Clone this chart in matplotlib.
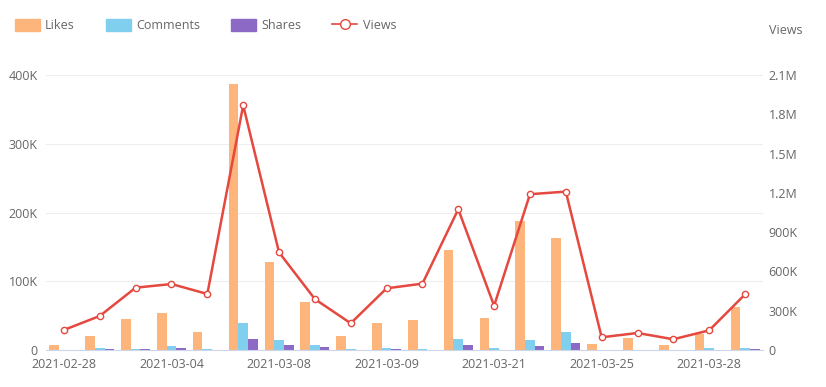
import numpy as np
import matplotlib.pyplot as plt
from matplotlib.ticker import FuncFormatter
from matplotlib.lines import Line2D
from matplotlib.patches import Patch

plt.rcParams['font.family'] = ['Open Sans', 'DejaVu Sans']

# 20 days, only every third label is shown on the axis
dates = ['2021-02-28', '', '', '2021-03-04', '', '', '2021-03-08', '', '', '2021-03-09',
         '', '', '2021-03-21', '', '', '2021-03-25', '', '', '2021-03-28', '']
likes = [7000, 21000, 45000, 54000, 26000, 387000, 128000, 70000, 20000, 39000,
         44000, 146000, 46500, 188000, 163000, 8500, 17000, 7000, 23000, 63000]
comments = [600, 3000, 1500, 6000, 1000, 39000, 15000, 8000, 1000, 3000,
            1000, 15500, 3000, 14500, 26000, 500, 500, 500, 3000, 3000]
shares = [300, 1500, 800, 3000, 500, 16000, 7000, 4500, 300, 2000,
          500, 7500, 500, 5500, 10000, 200, 200, 200, 500, 1000]
views = [153000, 260000, 476000, 504000, 428000, 1869000, 746000, 389000, 204000, 471000,
         507000, 1075000, 338000, 1190000, 1210000, 97000, 130000, 82000, 150000, 425000]

c_likes = '#fdb57c'
c_comments = '#80cfee'
c_shares = '#8d69c6'
c_views = '#e5483f'
txt = '#666666'

def kfmt(v, pos):
    if v == 0:
        return '0'
    if v >= 1e6:
        return f'{v/1e6:g}M'
    return f'{v/1e3:g}K'

fig = plt.figure(figsize=(8.26, 3.87), dpi=100)
ax = fig.add_axes([0.0557, 0.0956, 0.868, 0.7104])

x = np.arange(len(dates))
w = 0.27
ax.bar(x - w, likes, w, color=c_likes, zorder=2)
ax.bar(x, comments, w, color=c_comments, zorder=2)
ax.bar(x + w, shares, w, color=c_shares, zorder=2)

ax.set_xlim(-0.5, len(dates) - 0.5)
ax.set_ylim(0, 400000)
ax.set_yticks([0, 100000, 200000, 300000, 400000])
ax.yaxis.set_major_formatter(FuncFormatter(kfmt))
ax.set_xticks(x[::3])
ax.set_xticklabels(dates[::3])
ax.grid(axis='y', color='#eeeeee', linewidth=0.8, zorder=0)
for s in ['top', 'right', 'left']:
    ax.spines[s].set_visible(False)
ax.spines['bottom'].set_color('#ccd6eb')
ax.tick_params(length=0, labelsize=9, colors=txt)
ax.tick_params(axis='x', pad=6)
ax.tick_params(axis='y', pad=6)

ax2 = ax.twinx()
ax2.plot(x, views, color=c_views, linewidth=1.8, marker='o', markersize=4.5,
         markerfacecolor='white', markeredgecolor=c_views, markeredgewidth=1, zorder=3)
ax2.set_ylim(0, 2100000)
ax2.set_yticks(np.arange(0, 2100001, 300000))
ax2.yaxis.set_major_formatter(FuncFormatter(kfmt))
for s in ax2.spines.values():
    s.set_visible(False)
ax2.tick_params(length=0, labelsize=9, colors=txt, pad=4)

fig.text(0.951, 0.92, 'Views', fontsize=9, color=txt, ha='center', va='center')

handles = [Patch(color=c_likes), Patch(color=c_comments), Patch(color=c_shares),
           Line2D([0], [0], color=c_views, linewidth=1.2, marker='o', markersize=7,
                  markerfacecolor='white', markeredgecolor=c_views)]
fig.legend(handles, ['Likes', 'Comments', 'Shares', 'Views'], loc='upper left',
           bbox_to_anchor=(0.004, 0.98), ncol=4, frameon=False, fontsize=9,
           handlelength=2.0, handleheight=1.1, handletextpad=0.45, columnspacing=2.45,
           labelcolor=txt)

plt.savefig('out.png', dpi=100)
